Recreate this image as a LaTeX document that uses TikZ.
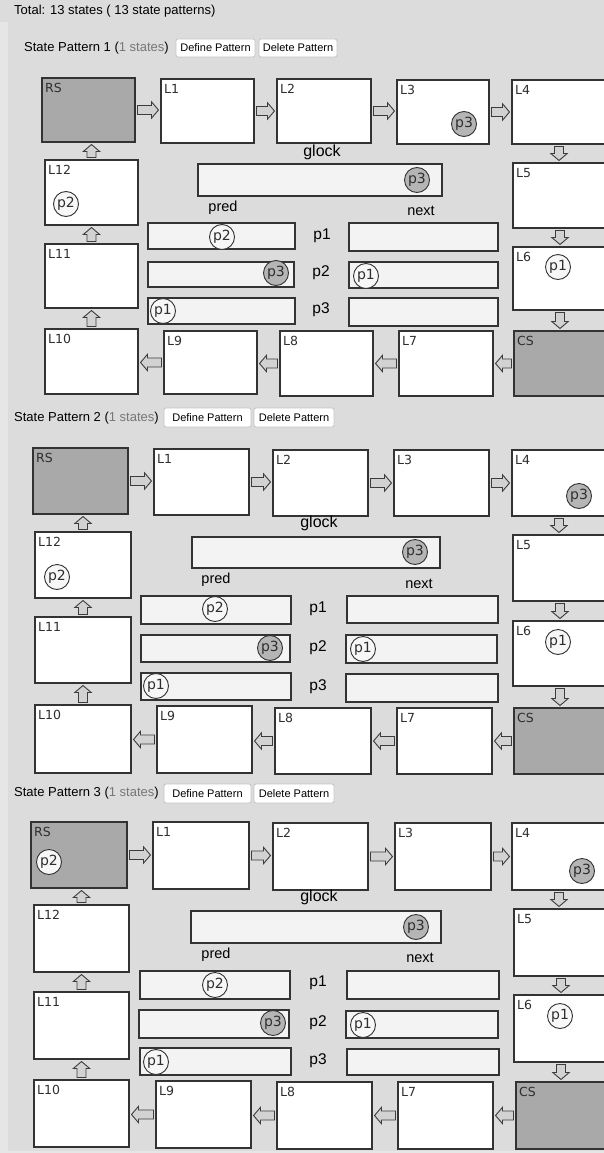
\documentclass[tikz,border=0pt]{standalone}
\usepackage{fontspec}
\setmainfont{Liberation Sans}
\newfontfamily\vfont{DejaVu Sans}
\usetikzlibrary{calc}
\definecolor{bg}{HTML}{DCDCDC}
\definecolor{bgl}{HTML}{E6E6E6}
\definecolor{edge}{HTML}{333333}
\definecolor{darkfill}{HTML}{A9A9A9}
\definecolor{rowfill}{HTML}{F3F3F3}
\definecolor{tokgrey}{HTML}{B5B5B5}
\definecolor{tokwhite}{HTML}{F7F7F7}
\definecolor{arrfill}{HTML}{D2D2D2}
\definecolor{arrline}{HTML}{3C3C3C}
\definecolor{dimtxt}{HTML}{777777}
\definecolor{btnline}{HTML}{C4C4C4}
\definecolor{lblc}{HTML}{2E2E2E}
\tikzset{
  box/.style={draw=edge, line width=1.1pt, fill=white, inner sep=0pt, outer sep=0pt},
  dbox/.style={box, fill=darkfill},
  rowbox/.style={box, fill=rowfill},
  lbl/.style={anchor=north west, inner sep=0pt, xshift=3pt, yshift=-5pt, font=\vfont\fontsize{12.5}{12.5}\selectfont, text=lblc},
  tok/.style={circle, draw=edge, line width=0.9pt, fill=tokwhite, minimum size=25pt, inner sep=0pt, font=\vfont\fontsize{14}{14}\selectfont, text=lblc},
  tokg/.style={tok, fill=tokgrey},
  hdr/.style={anchor=west, inner sep=0pt, font=\fontsize{13}{15}\selectfont},
  btn/.style={draw=btnline, line width=0.8pt, fill=white, rounded corners=2pt, inner sep=0pt, outer sep=0pt},
  big/.style={inner sep=0pt, font=\fontsize{16}{18}\selectfont},
  plab/.style={inner sep=0pt, font=\fontsize{15.5}{17}\selectfont},
  col/.style={inner sep=0pt, font=\fontsize{14.5}{16}\selectfont},
  barrow/.style={draw=arrline, fill=arrfill, line width=0.9pt, line join=miter,
    to path={
      ($(\tikztostart)!2.5pt!(\tikztotarget)$) coordinate (barS)
      ($(\tikztotarget)!2.5pt!(\tikztostart)$) coordinate (barT)
      ($(barT)!7pt!(barS)$) coordinate (barH)
      ($(barS)!4.5pt!90:(barT)$) -- ($(barH)!4.5pt!-90:(barS)$) -- ($(barH)!8.2pt!-90:(barS)$)
      -- (barT) -- ($(barH)!8.2pt!90:(barS)$) -- ($(barH)!4.5pt!90:(barS)$)
      -- ($(barS)!4.5pt!-90:(barT)$) -- cycle}}
}
\newcommand\mkbox[7]{%
  \pgfmathsetmacro\mybw{#5-#3}\pgfmathsetmacro\mybh{#6-#4}%
  \node[#2, minimum width=\mybw pt, minimum height=\mybh pt, anchor=north west,
    label={[lbl]north west:#7}] (#1) at (#3,#4) {};}
\newcommand\mkrect[6]{%
  \pgfmathsetmacro\mybw{#5-#3}\pgfmathsetmacro\mybh{#6-#4}%
  \node[#2, minimum width=\mybw pt, minimum height=\mybh pt, anchor=north west] (#1) at (#3,#4) {};}
\newcommand\mkbtn[6]{%
  \pgfmathsetmacro\mybw{#4-#2}\pgfmathsetmacro\mybh{#5-#3}%
  \node[btn, minimum width=\mybw pt, minimum height=\mybh pt, anchor=north west] (#1) at (#2,#3) {};
  \node[inner sep=0pt, font=\fontsize{11}{12}\selectfont] (#1-t) at (#1.center) {#6};}
\newcommand\ringarrows[1]{%
  \draw[barrow] (#1-RS.east) to (#1-RS.east -| #1-L1.west);
  \draw[barrow] (#1-L1.east) to (#1-L1.east -| #1-L2.west);
  \draw[barrow] (#1-L2.east) to (#1-L2.east -| #1-L3.west);
  \draw[barrow] (#1-L3.east) to (#1-L3.east -| #1-L4.west);
  \draw[barrow] (#1-L4.south) to (#1-L4.south |- #1-L5.north);
  \draw[barrow] (#1-L5.south) to (#1-L5.south |- #1-L6.north);
  \draw[barrow] (#1-L6.south) to (#1-L6.south |- #1-CS.north);
  \draw[barrow] (#1-CS.west) to (#1-CS.west -| #1-L7.east);
  \draw[barrow] (#1-L7.west) to (#1-L7.west -| #1-L8.east);
  \draw[barrow] (#1-L8.west) to (#1-L8.west -| #1-L9.east);
  \draw[barrow] (#1-L9.west) to (#1-L9.west -| #1-L10.east);
  \draw[barrow] (#1-L10.north) to (#1-L10.north |- #1-L11.south);
  \draw[barrow] (#1-L11.north) to (#1-L11.north |- #1-L12.south);
  \draw[barrow] (#1-L12.north) to (#1-L12.north |- #1-RS.south);}
\begin{document}
\begin{tikzpicture}[x=1pt,y=-1pt]
\useasboundingbox (0,0) rectangle (604,1153);
\clip (0,0) rectangle (604,1153);
\fill[bg] (0,0) rectangle (604,1153);
\fill[bgl] (0,22) rectangle (8,1153);
\fill[bgl] (0,1151) rectangle (604,1153);
\node[hdr] (total) at (14,11) {Total: 13 states ( 13 state patterns)};

% ---------------- Pattern 1 ----------------
\node[hdr] (a-hdr) at (24,48) {State Pattern 1 (\textcolor{dimtxt}{1 states})};
\mkbtn{a-def}{176}{39}{255}{57}{Define Pattern}
\mkbtn{a-del}{259}{39}{337}{57}{Delete Pattern}
\mkbox{a-RS}{dbox}{42}{78}{135}{142}{RS}
\mkbox{a-L1}{box}{161}{79}{254}{143}{L1}
\mkbox{a-L2}{box}{277}{79}{371}{143}{L2}
\mkbox{a-L3}{box}{397}{80}{489}{144}{L3}
\mkbox{a-L4}{box}{512}{80}{606}{144}{L4}
\mkbox{a-L5}{box}{513}{163}{607}{228}{L5}
\mkbox{a-L6}{box}{513}{247}{607}{310}{L6}
\mkbox{a-CS}{dbox}{514}{331}{608}{396}{CS}
\mkbox{a-L7}{box}{399}{331}{493}{396}{L7}
\mkbox{a-L8}{box}{280}{331}{373}{396}{L8}
\mkbox{a-L9}{box}{164}{331}{257}{394}{L9}
\mkbox{a-L10}{box}{45}{329}{138}{394}{L10}
\mkbox{a-L11}{box}{45}{244}{138}{308}{L11}
\mkbox{a-L12}{box}{45}{160}{138}{225}{L12}
\ringarrows{a}
\node[tokg] (a-tL3) at (464,124) {p3};
\node[tok] (a-tL6) at (558,267) {p1};
\node[tok] (a-tL12) at (66,204) {p2};
\node[big] (a-glock) at (322,152) {glock};
\mkrect{a-gbox}{rowbox}{198}{164}{442}{196}
\node[tokg] (a-tg) at (417,180) {p3};
\node[col] (a-pred) at (223,208) {pred};
\node[col] (a-next) at (421,211) {next};
\mkrect{a-pr1}{rowbox}{148}{223}{295}{249}
\mkrect{a-nx1}{rowbox}{349}{223}{498}{251}
\mkrect{a-pr2}{rowbox}{148}{262}{294}{287}
\mkrect{a-nx2}{rowbox}{349}{262}{498}{288}
\mkrect{a-pr3}{rowbox}{148}{298}{295}{324}
\mkrect{a-nx3}{rowbox}{349}{298}{498}{326}
\node[plab] (a-p1) at (322,236) {p1};
\node[plab] (a-p2) at (321,273) {p2};
\node[plab] (a-p3) at (321,310) {p3};
\node[tok] (a-tp1) at (222,237) {p2};
\node[tokg] (a-tp2) at (276,273) {p3};
\node[tok] (a-tn2) at (366,276) {p1};
\node[tok] (a-tp3) at (163,311) {p1};

% ---------------- Pattern 2 ----------------
\node[hdr] (b-hdr) at (14,418) {State Pattern 2 (\textcolor{dimtxt}{1 states})};
\mkbtn{b-def}{164}{408}{251}{427}{Define Pattern}
\mkbtn{b-del}{254}{408}{334}{427}{Delete Pattern}
\mkbox{b-RS}{dbox}{33}{448}{128}{514}{RS}
\mkbox{b-L1}{box}{154}{449}{249}{515}{L1}
\mkbox{b-L2}{box}{273}{450}{368}{516}{L2}
\mkbox{b-L3}{box}{394}{450}{489}{516}{L3}
\mkbox{b-L4}{box}{512}{450}{606}{516}{L4}
\mkbox{b-L5}{box}{513}{535}{607}{601}{L5}
\mkbox{b-L6}{box}{513}{621}{607}{686}{L6}
\mkbox{b-CS}{dbox}{514}{708}{608}{774}{CS}
\mkbox{b-L7}{box}{397}{708}{492}{774}{L7}
\mkbox{b-L8}{box}{275}{708}{371}{774}{L8}
\mkbox{b-L9}{box}{157}{706}{252}{773}{L9}
\mkbox{b-L10}{box}{35}{705}{131}{773}{L10}
\mkbox{b-L11}{box}{35}{617}{131}{683}{L11}
\mkbox{b-L12}{box}{35}{532}{131}{598}{L12}
\ringarrows{b}
\node[tokg] (b-tL4) at (579,496) {p3};
\node[tok] (b-tL6) at (558,642) {p1};
\node[tok] (b-tL12) at (57,577) {p2};
\node[big] (b-glock) at (319,523) {glock};
\mkrect{b-gbox}{rowbox}{192}{537}{440}{568}
\node[tokg] (b-tg) at (415,552) {p3};
\node[col] (b-pred) at (216,580) {pred};
\node[col] (b-next) at (419,584) {next};
\mkrect{b-pr1}{rowbox}{141}{596}{291}{624}
\mkrect{b-nx1}{rowbox}{347}{596}{498}{623}
\mkrect{b-pr2}{rowbox}{141}{635}{290}{662}
\mkrect{b-nx2}{rowbox}{346}{635}{497}{663}
\mkrect{b-pr3}{rowbox}{141}{673}{291}{700}
\mkrect{b-nx3}{rowbox}{346}{674}{498}{702}
\node[plab] (b-p1) at (318,609) {p1};
\node[plab] (b-p2) at (318,648) {p2};
\node[plab] (b-p3) at (318,687) {p3};
\node[tok] (b-tp1) at (215,609) {p2};
\node[tokg] (b-tp2) at (270,648) {p3};
\node[tok] (b-tn2) at (363,649) {p1};
\node[tok] (b-tp3) at (156,686) {p1};

% ---------------- Pattern 3 ----------------
\node[hdr] (c-hdr) at (14,793) {State Pattern 3 (\textcolor{dimtxt}{1 states})};
\mkbtn{c-def}{164}{784}{251}{803}{Define Pattern}
\mkbtn{c-del}{254}{784}{334}{803}{Delete Pattern}
\mkbox{c-RS}{dbox}{31}{822}{127}{888}{RS}
\mkbox{c-L1}{box}{153}{822}{249}{889}{L1}
\mkbox{c-L2}{box}{273}{823}{368}{890}{L2}
\mkbox{c-L3}{box}{395}{823}{491}{890}{L3}
\mkbox{c-L4}{box}{512}{823}{606}{890}{L4}
\mkbox{c-L5}{box}{514}{909}{608}{976}{L5}
\mkbox{c-L6}{box}{514}{995}{608}{1062}{L6}
\mkbox{c-CS}{dbox}{516}{1082}{610}{1149}{CS}
\mkbox{c-L7}{box}{398}{1082}{493}{1149}{L7}
\mkbox{c-L8}{box}{277}{1082}{372}{1149}{L8}
\mkbox{c-L9}{box}{156}{1081}{251}{1148}{L9}
\mkbox{c-L10}{box}{34}{1080}{129}{1147}{L10}
\mkbox{c-L11}{box}{34}{992}{129}{1059}{L11}
\mkbox{c-L12}{box}{34}{905}{129}{972}{L12}
\ringarrows{c}
\node[tok] (c-tRS) at (49,862) {p2};
\node[tokg] (c-tL4) at (582,871) {p3};
\node[tok] (c-tL6) at (560,1016) {p1};
\node[big] (c-glock) at (319,897) {glock};
\mkrect{c-gbox}{rowbox}{191}{911}{441}{943}
\node[tokg] (c-tg) at (416,927) {p3};
\node[col] (c-pred) at (216,955) {pred};
\node[col] (c-next) at (420,958) {next};
\mkrect{c-pr1}{rowbox}{140}{971}{290}{999}
\mkrect{c-nx1}{rowbox}{347}{971}{499}{999}
\mkrect{c-pr2}{rowbox}{139}{1010}{289}{1038}
\mkrect{c-nx2}{rowbox}{346}{1011}{498}{1038}
\mkrect{c-pr3}{rowbox}{140}{1048}{291}{1075}
\mkrect{c-nx3}{rowbox}{347}{1049}{499}{1075}
\node[plab] (c-p1) at (318,983) {p1};
\node[plab] (c-p2) at (318,1023) {p2};
\node[plab] (c-p3) at (318,1061) {p3};
\node[tok] (c-tp1) at (215,985) {p2};
\node[tokg] (c-tp2) at (273,1023) {p3};
\node[tok] (c-tn2) at (363,1025) {p1};
\node[tok] (c-tp3) at (156,1062) {p1};
\end{tikzpicture}
\end{document}
